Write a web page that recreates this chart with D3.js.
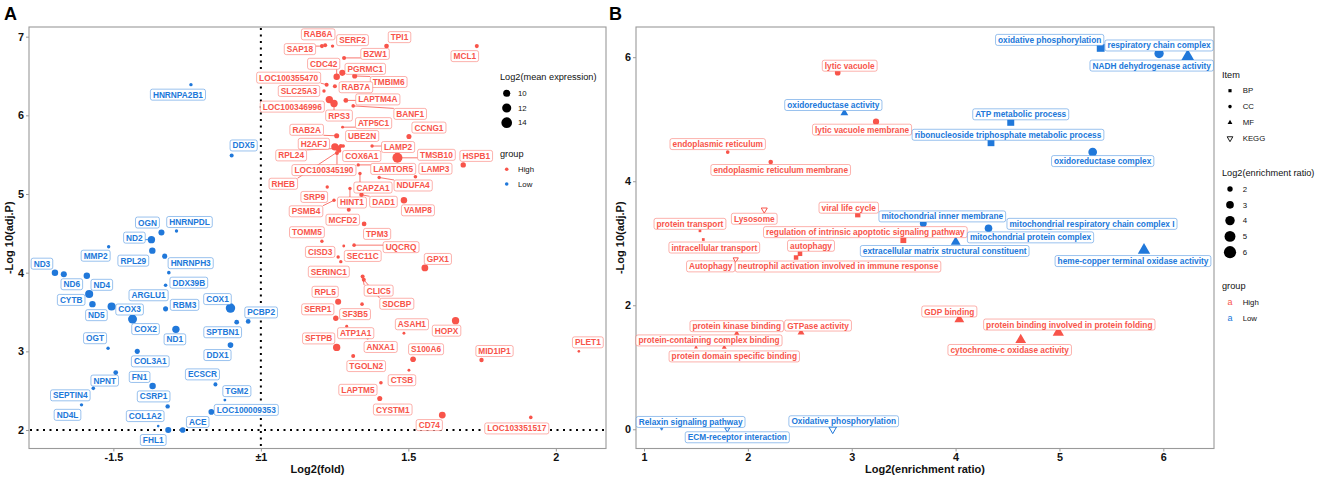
<!DOCTYPE html>
<html><head><meta charset="utf-8">
<script src="https://cdn.jsdelivr.net/npm/d3@7"></script>
<style>body{margin:0;background:#fff;} svg text{font-family:"Liberation Sans",Arial,Helvetica,sans-serif;}</style>
</head><body>
<svg id="c" width="1325" height="480"></svg>
<script>
// ---------------- DATA: panel A (volcano) ----------------
const highGenes = ["RAB6A","SAP18","SERF2","TPI1","MCL1","BZW1","CDC42","PGRMC1","TMBIM6","LOC100355470","RAB7A","SLC25A3","LOC100346996","RPS3","LAPTM4A","BANF1","ATP5C1","RAB2A","UBE2N","CCNG1","H2AFJ","RPL24","COX6A1","LOC100345190","RHEB","LAMP2","TMSB10","HSPB1","LAMTOR5","LAMP3","CAPZA1","NDUFA4","SRP9","HINT1","DAD1","VAMP8","PSMB4","MCFD2","TPM3","TOMM5","UQCRQ","SEC11C","CISD3","SERINC1","GPX1","CLIC5","SDCBP","RPL5","SERP1","SF3B5","ASAH1","HOPX","ATP1A1","ANXA1","SFTPB","S100A6","MID1IP1","PLET1","TGOLN2","CTSB","LAPTM5","CYSTM1","CD74","LOC103351517"];
const highFold = [1.218,1.207,1.243,1.426,1.732,1.282,1.257,1.276,1.318,1.223,1.251,1.214,1.232,1.248,1.288,1.313,1.277,1.257,1.279,1.502,1.251,1.262,1.271,1.258,1.266,1.377,1.463,1.686,1.330,1.524,1.336,1.401,1.225,1.302,1.341,1.485,1.248,1.298,1.350,1.207,1.316,1.281,1.262,1.271,1.556,1.345,1.349,1.262,1.254,1.343,1.485,1.660,1.291,1.362,1.257,1.516,1.748,2.078,1.313,1.502,1.407,1.403,1.615,1.915];
const highNegLogP = [6.89,6.88,6.88,6.88,6.88,6.73,6.49,6.54,6.50,6.39,6.37,6.31,6.20,6.15,6.19,6.12,5.85,5.74,5.61,5.73,5.60,5.58,5.61,5.52,5.55,5.61,5.46,5.37,5.37,5.22,5.26,5.21,5.09,5.07,4.99,4.92,4.92,4.80,4.62,4.40,4.35,4.34,4.20,4.14,4.06,3.95,3.91,3.63,3.42,3.60,3.23,3.39,3.32,3.17,3.05,2.90,2.89,3.00,2.94,2.76,2.60,2.40,2.19,2.16];
const highExpr = [7.8,7.8,7.5,8.2,7.8,7.8,9.4,9.1,8.4,7.8,7.8,7.5,10.2,10.2,8.2,7.6,7.3,8.4,7.6,8.4,10.2,8.8,7.8,7.8,7.8,7.5,13.1,8.6,7.5,7.6,7.5,7.5,7.5,7.5,8.0,9.4,7.5,7.8,8.2,7.5,7.6,7.3,7.5,7.5,9.7,7.8,7.8,9.1,8.6,7.6,7.3,10.2,7.3,7.3,10.2,8.8,8.0,7.2,7.8,7.3,7.6,8.4,9.7,7.6];

const lowGenes = ["HNRNPA2B1","DDX5","OGN","HNRNPDL","ND2","MMP2","RPL29","HNRNPH3","ND3","ND6","ND4","DDX39B","CYTB","ARGLU1","ND5","COX3","RBM3","COX1","PCBP2","COX2","SPTBN1","ND1","OGT","DDX1","COL3A1","NPNT","SEPTIN4","ND4L","FN1","CSRP1","COL1A2","FHL1","ACE","ECSCR","TGM2","LOC100009353"];
const lowFold = [-1.237,-1.099,-1.337,-1.286,-1.371,-1.516,-1.368,-1.326,-1.698,-1.668,-1.590,-1.312,-1.582,-1.323,-1.571,-1.506,-1.323,-1.103,-1.043,-1.435,-1.082,-1.288,-1.518,-1.103,-1.419,-1.492,-1.568,-1.608,-1.367,-1.316,-1.348,-1.314,-1.265,-1.154,-1.122,-1.168];
const lowNegLogP = [6.39,5.49,4.51,4.53,4.42,4.33,4.28,4.21,4.00,3.98,3.96,4.00,3.73,3.84,3.60,3.57,3.54,3.55,3.38,3.41,3.37,3.28,3.04,3.08,3.00,2.73,2.53,2.32,2.56,2.30,2.05,2.00,2.00,2.58,2.38,2.23];
const lowExpr = [7.5,7.8,9.1,7.5,10.2,7.5,9.4,8.4,9.4,9.1,9.4,7.6,10.9,7.6,9.4,10.9,8.4,12.4,8.2,11.9,8.2,10.2,7.5,8.8,8.4,8.2,7.6,7.5,9.4,8.0,7.2,9.1,8.8,7.8,7.3,8.8];

const xTicksA = [-1.5, 1, 1.5, 2];
const xTickLabelsA = ["-1.5", "\u00B11", "1.5", "2"];
const yTicksA = [2, 3, 4, 5, 6, 7];
const exprLegend = [10, 12, 14];
const groups = ["High", "Low"];

// ---------------- DATA: panel B (enrichment) ----------------
const termsB = ["lytic vacuole","oxidoreductase activity","lytic vacuole membrane","endoplasmic reticulum","endoplasmic reticulum membrane","Lysosome","viral life cycle","protein transport","intracellular transport","regulation of intrinsic apoptotic signaling pathway","autophagy","neutrophil activation involved in immune response","Autophagy","extracellular matrix structural constituent","mitochondrial inner membrane","mitochondrial protein complex","mitochondrial respiratory chain complex I","heme-copper terminal oxidase activity","oxidative phosphorylation","respiratory chain complex","NADH dehydrogenase activity","ATP metabolic process","ribonucleoside triphosphate metabolic process","oxidoreductase complex","GDP binding","protein binding involved in protein folding","cytochrome-c oxidase activity","GTPase activity","protein kinase binding","protein-containing complex binding","protein domain specific binding","Relaxin signaling pathway","ECM-receptor interaction","Oxidative phosphorylation"];
const itemB = ["CC","MF","CC","CC","CC","KEGG","BP","BP","BP","BP","BP","BP","KEGG","MF","CC","CC","CC","MF","BP","CC","MF","BP","BP","CC","MF","MF","MF","MF","MF","MF","MF","KEGG","KEGG","KEGG"];
const ratioB = [2.865,2.929,3.234,1.806,2.220,2.158,3.058,1.539,1.571,3.497,2.502,2.464,1.883,4.001,3.689,4.317,4.909,5.814,5.397,5.959,6.235,4.531,4.341,5.320,4.036,4.989,4.627,2.512,1.893,1.501,1.773,1.170,1.802,2.817];
const padjB = [5.75,5.10,4.96,4.47,4.31,3.54,3.46,3.20,3.06,3.05,2.83,2.77,2.74,3.02,3.32,3.24,3.28,2.89,6.15,6.06,6.01,4.95,4.62,4.47,1.77,1.56,1.44,1.56,1.55,1.32,1.32,0.005,0.0,0.0];
const groupB = ["High","Low","High","High","High","High","High","High","High","High","High","High","High","Low","Low","Low","Low","Low","Low","Low","Low","Low","Low","Low","High","High","High","High","High","High","High","Low","Low","Low"];
const itemsB = ["BP","CC","MF","KEGG"];
const xTicksB = [1, 2, 3, 4, 5, 6];
const yTicksB = [0, 2, 4, 6];
const ratioLegend = [2, 3, 4, 5, 6];

// ---------------- LAYOUT (label placement offsets in px, like ggrepel output) ----------------
const nudgeA = {
 RAB6A:[-7,-11],SAP18:[-22,3],SERF2:[20,-6],TPI1:[13,-9],MCL1:[-12,10],BZW1:[31,-4],CDC42:[-13,-13],PGRMC1:[23,-4],TMBIM6:[34,6],
 LOC100355470:[-38,-7],RAB7A:[21,1],SLC25A3:[-25,0],LOC100346996:[-37,7],RPS3:[5,12],LAPTM4A:[32,-1],BANF1:[57,8],ATP5C1:[31,-4],
 RAB2A:[-30,-6],UBE2N:[19,-10],CCNG1:[20,-9],H2AFJ:[-21,-3],RPL24:[-47,7],COX6A1:[21,10],LAMP2:[26,1],TMSB10:[39,-3],HSPB1:[13,-9],
 LOC100345190:[-13,17],RHEB:[-56,33],LAMTOR5:[35,4],LAMP3:[20,-8],CAPZA1:[13,14],NDUFA4:[34,8],SRP9:[-13,10],HINT1:[2,14],DAD1:[22,7],
 VAMP8:[14,10],PSMB4:[-28,11],MCFD2:[-6,10],TPM3:[13,10],TOMM5:[-15,-9],UQCRQ:[47,2],CISD3:[-18,-5],SEC11C:[19,10],SERINC1:[-12,10],
 GPX1:[13,-9],CLIC5:[16,14],SDCBP:[33,24],RPL5:[-13,-10],SERP1:[-18,-9],SF3B5:[-7,10],ASAH1:[8,-9],HOPX:[-9,10],ATP1A1:[9,7],
 ANXA1:[13,9],SFTPB:[-18,-9],S100A6:[13,-10],MID1IP1:[13,-9],PLET1:[9,-9],TGOLN2:[13,10],CTSB:[-7,10],LAPTM5:[-23,7],CYSTM1:[13,11],
 CD74:[-13,10],LOC103351517:[-14,11],
 HNRNPA2B1:[-13,10],DDX5:[12,-10],OGN:[-14,-10],HNRNPDL:[13,-9],ND2:[-17,-2],MMP2:[-13,9],RPL29:[-19,10],HNRNPH3:[26,7],ND3:[-13,-9],
 ND6:[8,10],ND4:[15,9],DDX39B:[20,10],CYTB:[-18,6],ARGLU1:[-17,10],ND5:[4,11],COX3:[18,3],RBM3:[19,-4],COX1:[-13,-9],PCBP2:[13,-9],
 COX2:[13,10],SPTBN1:[-14,10],ND1:[-1,10],OGT:[-13,-10],DDX1:[-13,10],COL3A1:[13,10],NPNT:[-11,8],SEPTIN4:[-23,7],ND4L:[-14,10],
 FN1:[-13,-9],CSRP1:[-14,-10],COL1A2:[-13,-10],FHL1:[-15,10],ACE:[15,-8],ECSCR:[-13,-10],TGM2:[12,-9],LOC100009353:[35,-2]
};
const nudgeB = [[12,-7],[-11,-8],[-14,8],[-10,-8],[10,8],[-10,9],[-9,-7],[-10,-7],[11,8],[-38,-8],[11,-8],[42,9],[-25,7],[-11,9],[19,-7],[42,9],[42,-2],[-11,11],[-51,-8],[0,-8],[-36,9],[10,-8],[17,-8],[10,9],[-10,-8],[11,-8],[-11,10],[17,-7],[0,-7],[13,-7],[10,9],[29,-7],[10,8],[11,-8]];

// ---------------- STYLE ----------------
const RED = "#F8544A", BLUE = "#2078DA";
const colorOf = g => g === "High" ? RED : BLUE;
const GRAY = "#9a9a9a";
const svg = d3.select("#c");

function frame(box, xs, ys, xVals, xFmt, yVals, xTitle, yTitle, yTitleX) {
  const g = svg.append("g");
  const ax = g.append("g").attr("transform", `translate(0,${box.b})`)
    .call(d3.axisBottom(xs).tickValues(xVals).tickFormat(xFmt).tickSize(3).tickPadding(2));
  const ay = g.append("g").attr("transform", `translate(${box.l},0)`)
    .call(d3.axisLeft(ys).tickValues(yVals).tickFormat(d3.format("d")).tickSize(3).tickPadding(2));
  [ax, ay].forEach(a => {
    a.select(".domain").remove();
    a.selectAll(".tick line").attr("stroke", GRAY);
    a.selectAll(".tick text").attr("fill", "#111").attr("font-size", "10.8px").attr("font-weight", "bold")
      .style("font-family", '"Liberation Sans",Arial,sans-serif');
  });
  g.append("rect").attr("x", box.l).attr("y", box.t).attr("width", box.r - box.l).attr("height", box.b - box.t)
    .attr("fill", "none").attr("stroke", GRAY).attr("stroke-width", 1.1);
  g.append("text").attr("x", (box.l + box.r) / 2).attr("y", 473).attr("text-anchor", "middle")
    .attr("font-size", "11px").attr("font-weight", "bold").attr("fill", "#111").text(xTitle);
  g.append("text").attr("transform", `translate(${yTitleX},${(box.t + box.b) / 2}) rotate(-90)`)
    .attr("text-anchor", "middle").attr("dy", "0.35em").attr("font-size", "11px").attr("font-weight", "bold").attr("fill", "#111").text(yTitle);
}

function labels(segLayer, labLayer, items) {
  items.forEach(d => {
    const cx = d.px + d.dx, cy = d.py + d.dy;
    const lg = labLayer.append("g");
    const rect = lg.append("rect");
    const txt = lg.append("text").attr("x", cx).attr("y", cy).attr("dy", "0.36em").attr("text-anchor", "middle")
      .attr("font-size", "8.3px").attr("font-weight", "bold").attr("fill", d.color).text(d.name);
    const w = txt.node().getComputedTextLength() + 5, h = 11;
    rect.attr("x", cx - w / 2).attr("y", cy - h / 2).attr("width", w).attr("height", h).attr("rx", 2)
      .attr("fill", "#fff").attr("stroke", d.color).attr("stroke-opacity", 0.45).attr("stroke-width", 1);
    const qx = Math.max(cx - w / 2, Math.min(d.px, cx + w / 2));
    const qy = Math.max(cy - h / 2, Math.min(d.py, cy + h / 2));
    if (Math.hypot(qx - d.px, qy - d.py) > 6) {
      segLayer.append("line").attr("x1", d.px).attr("y1", d.py).attr("x2", qx).attr("y2", qy)
        .attr("stroke", d.color).attr("stroke-width", 0.8);
    }
  });
}

// ---------------- PANEL A ----------------
const A = {l: 29, r: 606, t: 27, b: 448.5};
const tf = v => v < 0 ? v + 1 : v - 1;            // collapse the -1..1 gap (axis break at ±1)
const xA = d3.scaleLinear().domain([-0.786, 1.17]).range([A.l, A.r]);
const yA = d3.scaleLinear().domain([1.765, 7.123]).range([A.b, A.t]);
const areaA = d3.scaleLinear().domain([7, 15]).range([1, 36]);
const rA = e => 0.95 * Math.sqrt(areaA(e));

frame(A, xA, yA, xTicksA.map(tf), (v, i) => xTickLabelsA[i], yTicksA, "Log2(fold)", "-Log 10(adj.P)", 9);

const gA = svg.append("g");
gA.append("line").attr("x1", xA(0)).attr("x2", xA(0)).attr("y1", A.t + 1).attr("y2", A.b)
  .attr("stroke", "#000").attr("stroke-width", 2).attr("stroke-dasharray", "2,4.5");
gA.append("line").attr("x1", A.l + 1).attr("x2", A.r).attr("y1", yA(2)).attr("y2", yA(2))
  .attr("stroke", "#000").attr("stroke-width", 2).attr("stroke-dasharray", "2,4.5");

const ptsA = [];
highGenes.forEach((n, i) => ptsA.push({name: n, x: highFold[i], y: highNegLogP[i], e: highExpr[i], g: "High"}));
lowGenes.forEach((n, i) => ptsA.push({name: n, x: lowFold[i], y: lowNegLogP[i], e: lowExpr[i], g: "Low"}));
ptsA.forEach(d => { d.px = xA(tf(d.x)); d.py = yA(d.y); d.color = colorOf(d.g); d.dx = nudgeA[d.name][0]; d.dy = nudgeA[d.name][1]; });

gA.append("g").selectAll("circle").data(ptsA).join("circle")
  .attr("cx", d => d.px).attr("cy", d => d.py).attr("r", d => rA(d.e)).attr("fill", d => d.color);
const segA = gA.append("g"), labA = gA.append("g");
labels(segA, labA, ptsA);

// legend A
const LA = svg.append("g");
LA.append("text").attr("x", 500).attr("y", 80).attr("font-size", "9.2px").attr("fill", "#111").text("Log2(mean expression)");
exprLegend.forEach((v, i) => {
  const y = 93.3 + i * 14.7;
  LA.append("circle").attr("cx", 506.7).attr("cy", y).attr("r", rA(v)).attr("fill", "#000");
  LA.append("text").attr("x", 518).attr("y", y).attr("dy", "0.35em").attr("font-size", "7.8px").attr("fill", "#111").text(v);
});
LA.append("text").attr("x", 500).attr("y", 157).attr("font-size", "9.2px").attr("fill", "#111").text("group");
groups.forEach((gname, i) => {
  const y = 169.3 + i * 14.7;
  LA.append("circle").attr("cx", 506.7).attr("cy", y).attr("r", 1.8).attr("fill", colorOf(gname));
  LA.append("text").attr("x", 518).attr("y", y).attr("dy", "0.35em").attr("font-size", "7.8px").attr("fill", "#111").text(gname);
});

// ---------------- PANEL B ----------------
const B = {l: 636, r: 1214, t: 27, b: 448.5};
const xB = d3.scaleLinear().domain([0.923, 6.488]).range([B.l, B.r]);
const yB = d3.scaleLinear().domain([-0.31, 6.487]).range([B.b, B.t]);
const areaB = d3.scaleLinear().domain(d3.extent(ratioB)).range([1, 36]);
const rB = v => 0.8 * Math.sqrt(areaB(v));
const symType = {BP: d3.symbolSquare, CC: d3.symbolCircle, MF: d3.symbolTriangle, KEGG: d3.symbolTriangle};

frame(B, xB, yB, xTicksB, d => d, yTicksB, "Log2(enrichment ratio)", "-Log 10(adj.P)", 620);

const gB = svg.append("g");
const ptsB = termsB.map((n, i) => ({name: n, item: itemB[i], x: ratioB[i], y: padjB[i], g: groupB[i]}));
ptsB.forEach((d, i) => { d.px = xB(d.x); d.py = yB(d.y); d.color = colorOf(d.g); d.dx = nudgeB[i][0]; d.dy = nudgeB[i][1]; });

gB.append("g").selectAll("path").data(ptsB).join("path")
  .attr("transform", d => `translate(${d.px},${d.py})` + (d.item === "KEGG" ? " rotate(180)" : ""))
  .attr("d", d => d3.symbol().type(symType[d.item]).size(Math.PI * rB(d.x) ** 2)())
  .attr("fill", d => d.item === "KEGG" ? "none" : d.color)
  .attr("stroke", d => d.item === "KEGG" ? d.color : "none").attr("stroke-width", 1);
const segB = gB.append("g"), labB = gB.append("g");
labels(segB, labB, ptsB);

// legend B
const LB = svg.append("g");
LB.append("text").attr("x", 1222).attr("y", 78).attr("font-size", "9.2px").attr("fill", "#111").text("Item");
itemsB.forEach((it, i) => {
  const y = 90.7 + i * 15.9;
  LB.append("path").attr("transform", `translate(1230,${y})` + (it === "KEGG" ? " rotate(180)" : ""))
    .attr("d", d3.symbol().type(symType[it]).size(it === "KEGG" ? 14 : 10)())
    .attr("fill", it === "KEGG" ? "none" : "#000").attr("stroke", it === "KEGG" ? "#000" : "none").attr("stroke-width", 0.9);
  LB.append("text").attr("x", 1242.7).attr("y", y).attr("dy", "0.35em").attr("font-size", "7.8px").attr("fill", "#111").text(it);
});
LB.append("text").attr("x", 1222).attr("y", 176).attr("font-size", "9.2px").attr("fill", "#111").text("Log2(enrichment ratio)");
ratioLegend.forEach((v, i) => {
  const y = 189 + i * 15.8;
  LB.append("circle").attr("cx", 1230).attr("cy", y).attr("r", 1.3 * rB(v)).attr("fill", "#000");
  LB.append("text").attr("x", 1242.7).attr("y", y).attr("dy", "0.35em").attr("font-size", "7.8px").attr("fill", "#111").text(v);
});
LB.append("text").attr("x", 1222).attr("y", 289).attr("font-size", "9.2px").attr("fill", "#111").text("group");
groups.forEach((gname, i) => {
  const y = 302.3 + i * 16;
  LB.append("text").attr("x", 1230).attr("y", y).attr("dy", "0.35em").attr("text-anchor", "middle").attr("font-size", "9px").attr("fill", colorOf(gname)).text("a");
  LB.append("text").attr("x", 1242.7).attr("y", y).attr("dy", "0.35em").attr("font-size", "7.8px").attr("fill", "#111").text(gname);
});

// panel tags
svg.append("text").attr("x", 4).attr("y", 20).attr("font-size", "18px").attr("font-weight", "bold").attr("fill", "#000").text("A");
svg.append("text").attr("x", 609).attr("y", 20).attr("font-size", "18px").attr("font-weight", "bold").attr("fill", "#000").text("B");
</script>
</body></html>
